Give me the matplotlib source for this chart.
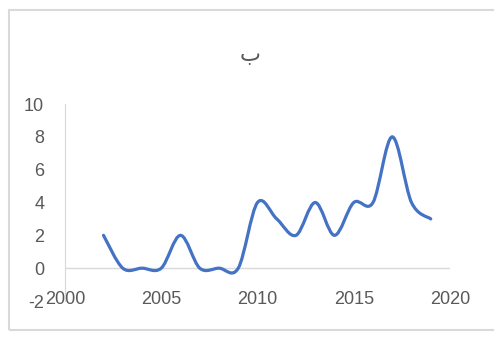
import matplotlib.pyplot as plt
from matplotlib.path import Path
from matplotlib.patches import PathPatch, Rectangle

plt.rcParams['axes.unicode_minus'] = False

years = [2002, 2003, 2004, 2005, 2006, 2007, 2008, 2009, 2010, 2011,
         2012, 2013, 2014, 2015, 2016, 2017, 2018, 2019]
values = [2, 0, 0, 0, 2, 0, 0, 0, 4, 3, 2, 4, 2, 4, 4, 8, 4, 3]
title = 'ب'
xticks = [2000, 2005, 2010, 2015, 2020]
yticks = [-2, 0, 2, 4, 6, 8, 10]

fig = plt.figure(figsize=(4.94, 3.38), dpi=100)
ax = fig.add_axes([65/494, 1 - 301/338, (450 - 65)/494, (301 - 104)/338])

# smoothed line like Excel (cubic bezier segments)
pts = list(zip(years, values))
verts = [pts[0]]
codes = [Path.MOVETO]
n = len(pts)
for i in range(n - 1):
    p0 = pts[i - 1] if i > 0 else pts[i]
    p1 = pts[i]
    p2 = pts[i + 1]
    p3 = pts[i + 2] if i + 2 < n else pts[i + 1]
    c1 = (p1[0] + (p2[0] - p0[0]) / 6, p1[1] + (p2[1] - p0[1]) / 6)
    c2 = (p2[0] - (p3[0] - p1[0]) / 6, p2[1] - (p3[1] - p1[1]) / 6)
    verts += [c1, c2, p2]
    codes += [Path.CURVE4] * 3
ax.add_patch(PathPatch(Path(verts, codes), fill=False, edgecolor='#4472C4',
                       lw=2.3, capstyle='round', joinstyle='round', zorder=3))

ax.axhline(0, color='#d9d9d9', lw=1, zorder=1)
ax.set_xlim(2000, 2020)
ax.set_ylim(-2, 10)
ax.set_xticks(xticks)
ax.set_yticks(yticks)
for s in ['top', 'right', 'bottom']:
    ax.spines[s].set_visible(False)
ax.spines['left'].set_color('#d9d9d9')
ax.tick_params(axis='both', length=0, labelsize=13, labelcolor='#595959')
ax.tick_params(axis='x', pad=-7)
ax.tick_params(axis='y', pad=15)
for lab in ax.get_xticklabels() + ax.get_yticklabels():
    lab.set_fontfamily('Liberation Sans')

fig.text(250/494, 1 - 55/338, title, ha='center', va='center', fontsize=16,
         color='#595959', family='DejaVu Sans')

fig.patches.append(Rectangle((9/494, 1 - 330/338), 1.2, (330 - 10)/338,
                             transform=fig.transFigure, fill=False,
                             edgecolor='#d9d9d9', lw=1.5))

plt.savefig('out.png', dpi=100)
